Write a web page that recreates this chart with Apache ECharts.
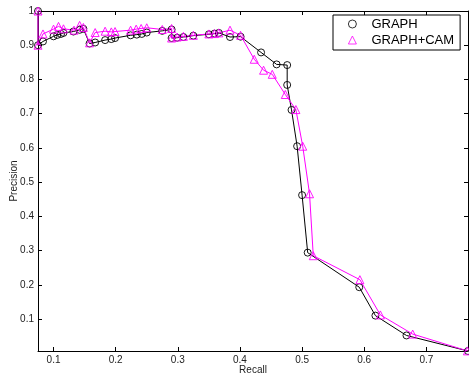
<!DOCTYPE html>
<html>
<head>
<meta charset="utf-8">
<script src="https://cdn.jsdelivr.net/npm/echarts@6/dist/echarts.min.js"></script>
<style>html,body{margin:0;padding:0;background:#fff}#c{width:469px;height:377px}</style>
</head>
<body>
<div id="c"></div>
<script>
const graphRecall = [0.075,0.075,0.083,0.100,0.106,0.112,0.116,0.132,0.142,0.148,0.158,0.167,0.183,0.193,0.199,0.224,0.234,0.242,0.250,0.275,0.290,0.290,0.299,0.309,0.325,0.350,0.359,0.366,0.384,0.401,0.434,0.459,0.476,0.476,0.483,0.492,0.500,0.509,0.592,0.618,0.668,0.767];
const graphPrecision = [1.000,0.900,0.911,0.926,0.930,0.933,0.936,0.940,0.945,0.948,0.905,0.908,0.915,0.918,0.921,0.929,0.931,0.933,0.937,0.942,0.946,0.921,0.922,0.924,0.928,0.932,0.934,0.936,0.924,0.925,0.879,0.844,0.842,0.784,0.711,0.605,0.462,0.294,0.193,0.110,0.052,0.0066];
const camRecall = [0.075,0.075,0.083,0.100,0.108,0.116,0.133,0.142,0.148,0.158,0.167,0.183,0.193,0.199,0.224,0.233,0.241,0.250,0.275,0.290,0.290,0.299,0.309,0.325,0.350,0.359,0.366,0.384,0.401,0.423,0.438,0.452,0.473,0.490,0.501,0.512,0.518,0.593,0.626,0.678,0.766];
const camPrecision = [1.000,0.900,0.933,0.947,0.955,0.948,0.944,0.958,0.952,0.907,0.937,0.941,0.939,0.940,0.944,0.947,0.949,0.951,0.946,0.949,0.921,0.924,0.926,0.929,0.933,0.934,0.936,0.944,0.929,0.859,0.827,0.815,0.756,0.712,0.605,0.466,0.285,0.215,0.112,0.056,0.0070];
const xTicks = [0.1,0.2,0.3,0.4,0.5,0.6,0.7];
const yTicks = [0.1,0.2,0.3,0.4,0.5,0.6,0.7,0.8,0.9,1.0];
const seriesNames = ['GRAPH','GRAPH+CAM'];

const FONT = 'Liberation Sans, Arial, sans-serif';
const fmt = v => String(Number(v.toFixed(1)));
const xMin = 0.075, xMax = 0.767, yMin = 0.0066, yMax = 1.0;

const chart = echarts.init(document.getElementById('c'), null, {renderer:'canvas'});
const axisLine = {show:true, lineStyle:{color:'#000', width:1}};
chart.setOption({
  animation:false,
  backgroundColor:'#fff',
  grid:{left:38, right:1, top:11, bottom:26, containLabel:false, outerBoundsMode:'none'},
  legend:{
    orient:'vertical', left:333, top:15,
    backgroundColor:'#fff', borderColor:'#000', borderWidth:1, borderRadius:0,
    padding:[1,6,2,15], itemGap:0, itemWidth:8, itemHeight:8,
    textStyle:{fontFamily:FONT, fontSize:13, color:'#000', lineHeight:16, padding:[0,0,0,10]},
    data:[
      {name:seriesNames[0], icon:'circle', itemStyle:{color:'rgba(0,0,0,0)', borderColor:'#000', borderWidth:0.8}},
      {name:seriesNames[1], icon:'triangle', itemStyle:{color:'rgba(0,0,0,0)', borderColor:'#ff00ff', borderWidth:0.8}}
    ]
  },
  xAxis:[
    {type:'value', min:xMin, max:xMax, position:'bottom',
     name:'Recall', nameLocation:'middle', nameGap:14, nameMoveOverlap:false,
     nameTextStyle:{fontFamily:FONT, fontSize:10, color:'#222'},
     axisLine:axisLine, splitLine:{show:false},
     axisTick:{show:true, inside:true, length:4, customValues:xTicks, lineStyle:{color:'#000'}},
     axisLabel:{customValues:xTicks, formatter:fmt, margin:4, fontFamily:FONT, fontSize:10, color:'#222'}},
    {type:'value', min:xMin, max:xMax, position:'top',
     axisLine:axisLine, splitLine:{show:false},
     axisTick:{show:true, inside:true, length:4, customValues:xTicks, lineStyle:{color:'#000'}},
     axisLabel:{show:false}}
  ],
  yAxis:[
    {type:'value', min:yMin, max:yMax, position:'left',
     name:'Precision', nameLocation:'middle', nameGap:19, nameRotate:90, nameMoveOverlap:false,
     nameTextStyle:{fontFamily:FONT, fontSize:10, color:'#222'},
     axisLine:axisLine, splitLine:{show:false},
     axisTick:{show:true, inside:true, length:4, customValues:yTicks, lineStyle:{color:'#000'}},
     axisLabel:{customValues:yTicks, formatter:fmt, margin:4, fontFamily:FONT, fontSize:10, color:'#222'}},
    {type:'value', min:yMin, max:yMax, position:'right',
     axisLine:axisLine, splitLine:{show:false},
     axisTick:{show:true, inside:true, length:4, customValues:yTicks, lineStyle:{color:'#000'}},
     axisLabel:{show:false}}
  ],
  series:[
    {name:seriesNames[0], type:'line', xAxisIndex:0, yAxisIndex:0, clip:false,
     data:graphRecall.map((x,i)=>[x, graphPrecision[i]]),
     symbol:'circle', symbolSize:7,
     lineStyle:{color:'#000', width:1}, itemStyle:{color:'rgba(255,255,255,0)', borderColor:'#000', borderWidth:0.9}},
    {name:seriesNames[1], type:'line', xAxisIndex:0, yAxisIndex:0, clip:false,
     data:camRecall.map((x,i)=>[x, camPrecision[i]]),
     symbol:'triangle', symbolSize:8,
     lineStyle:{color:'#ff00ff', width:1}, itemStyle:{color:'rgba(255,255,255,0)', borderColor:'#ff00ff', borderWidth:0.9}}
  ]
});
</script>
</body>
</html>
